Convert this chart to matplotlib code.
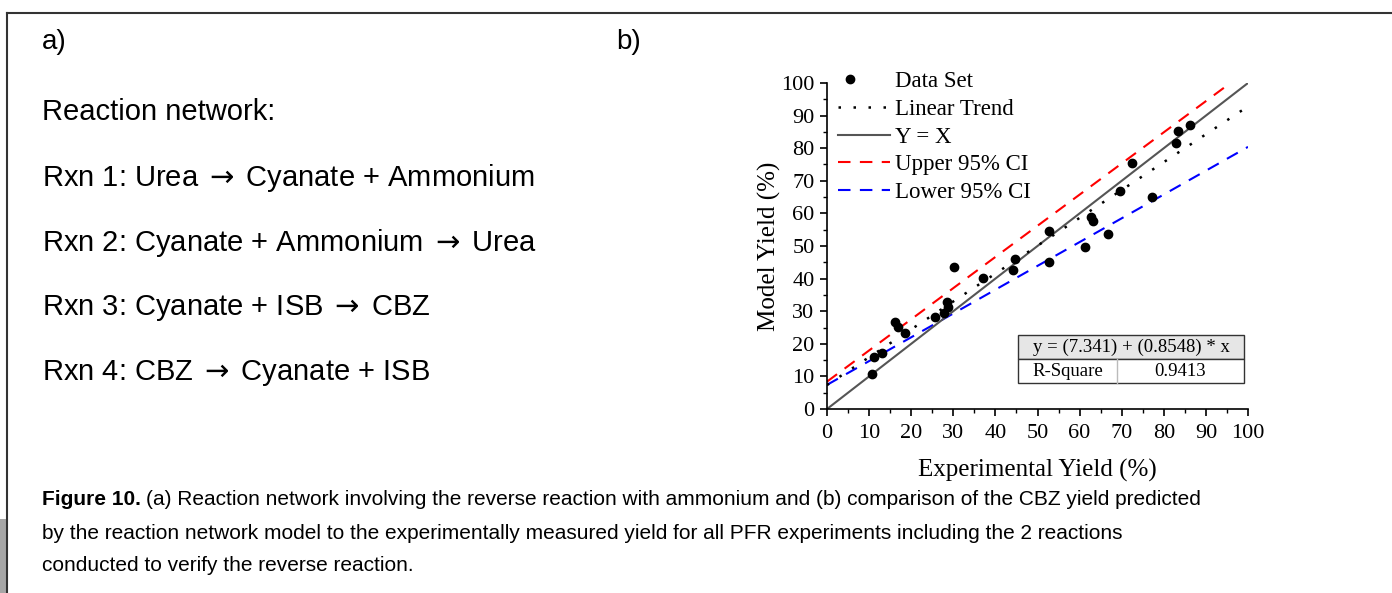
"""
Figure 10: reaction network text (a) and model vs experimental CBZ yield (b)
"""

import matplotlib
matplotlib.use('Agg')
import matplotlib.pyplot as plt
from matplotlib.legend_handler import HandlerLine2D
from matplotlib.lines import Line2D
from matplotlib.patches import Rectangle
from matplotlib.ticker import MultipleLocator

# data
exp_yield = [10.8, 11.2, 13.0, 16.1, 16.9, 18.5, 25.6, 27.7, 28.4, 28.7, 30.2, 37.0, 44.1,
             44.7, 52.7, 52.7, 61.3, 62.8, 63.1, 66.8, 69.6, 72.4, 77.3, 82.9, 83.4, 86.2]
model_yield = [10.8, 15.9, 17.1, 26.7, 25.1, 23.4, 28.3, 29.5, 32.8, 31.4, 43.6, 40.3, 42.6,
               46.0, 54.6, 45.0, 49.6, 58.8, 57.8, 53.6, 66.9, 75.4, 65.1, 81.6, 85.3, 87.1]

fit_intercept = 7.341
fit_slope = 0.8548
r_square = 0.9413

line_x = [0, 100]
upper_ci = [8.4, 104.0]
lower_ci = [7.4, 80.4]

reactions = [
    'Reaction network:',
    r'Rxn 1: Urea$\:\rightarrow\:$Cyanate + Ammonium',
    r'Rxn 2: Cyanate + Ammonium$\:\rightarrow\:$Urea',
    r'Rxn 3: Cyanate + ISB$\:\rightarrow\:$CBZ',
    r'Rxn 4: CBZ$\:\rightarrow\:$Cyanate + ISB',
]
reaction_rows = [112, 178, 243, 308, 373]

caption_lines = [
    '(a) Reaction network involving the reverse reaction with ammonium and (b) comparison of the CBZ yield predicted',
    'by the reaction network model to the experimentally measured yield for all PFR experiments including the 2 reactions',
    'conducted to verify the reverse reaction.',
]

W, H = 1392, 593
sans = ['Liberation Sans', 'DejaVu Sans']
serif = ['Liberation Serif', 'DejaVu Serif']
cap_size = 15


def px(x, y):
    return x / W, 1 - y / H


class LeftMarkerHandler(HandlerLine2D):
    """
    Legend handler that puts the single marker near the left of the handle (like Origin)
    """
    def create_artists(self, legend, orig_handle, xdescent, ydescent, width, height, fontsize, trans):
        artists = super().create_artists(legend, orig_handle, xdescent, ydescent,
                                         width, height, fontsize, trans)
        line = artists[0]
        xd = list(line.get_xdata())
        line.set_xdata([xd[0], xd[0] + 0.23 * (xd[-1] - xd[0]), xd[-1]])
        return artists


fig = plt.figure(figsize=(W / 100, H / 100), dpi=100)

# page frame bits
fig.add_artist(Line2D([7 / W, 1], [1 - 13 / H, 1 - 13 / H], color='#333333', lw=1.5))
fig.add_artist(Line2D([7 / W, 7 / W], [0, 1 - 13 / H], color='#333333', lw=1.5))
fig.add_artist(Rectangle((0, 0), 6 / W, (H - 519) / H, color='#a6a6a6', lw=0))

# panel a
fig.text(*px(42, 42), 'a)', family=sans, fontsize=20, va='center')
fig.text(*px(616, 42), 'b)', family=sans, fontsize=20, va='center')
for text, row in zip(reactions, reaction_rows):
    fig.text(*px(42, row), text, family=sans, fontsize=21, va='center')

# caption, bold label then the rest on the same baseline
label = fig.text(*px(42, 505), 'Figure 10.', family=sans, fontsize=cap_size,
                 fontweight='bold', va='baseline')
renderer = fig.canvas.get_renderer()
label_end = label.get_window_extent(renderer).x1
fig.text((label_end + 5) / W, 1 - 505 / H, caption_lines[0], family=sans, fontsize=cap_size,
         va='baseline')
fig.text(*px(42, 539), caption_lines[1], family=sans, fontsize=cap_size, va='baseline')
fig.text(*px(42, 571), caption_lines[2], family=sans, fontsize=cap_size, va='baseline')

# panel b
ax = fig.add_axes([827 / W, 1 - 409 / H, (1248 - 827) / W, (409 - 83) / H])
fit_y = [fit_intercept + fit_slope * x for x in line_x]

ax.plot(line_x, upper_ci, color='red', lw=1.5, ls=(0, (6, 4.5)), label='Upper 95% CI')
ax.plot(line_x, lower_ci, color='blue', lw=1.5, ls=(0, (6, 4.5)), label='Lower 95% CI')
ax.plot(line_x, line_x, color='#555555', lw=1.5, label='Y = X')
ax.plot(line_x, fit_y, color='black', lw=1.8, ls=(0, (1, 5)), label='Linear Trend')
data_pts, = ax.plot(exp_yield, model_yield, 'o', color='black', ms=6, label='Data Set', zorder=5)

ax.set_xlim(0, 100)
ax.set_ylim(0, 100)
ax.xaxis.set_major_locator(MultipleLocator(10))
ax.yaxis.set_major_locator(MultipleLocator(10))
ax.xaxis.set_minor_locator(MultipleLocator(5))
ax.yaxis.set_minor_locator(MultipleLocator(5))
ax.spines['top'].set_visible(False)
ax.spines['right'].set_visible(False)
for side in ('left', 'bottom'):
    ax.spines[side].set_linewidth(1.2)
ax.tick_params(which='major', length=5, width=1.2, labelsize=16, direction='out', pad=4)
ax.tick_params(axis='x', which='major', pad=6)
ax.tick_params(which='minor', length=3, width=1.0, direction='out')
for lbl in ax.get_xticklabels() + ax.get_yticklabels():
    lbl.set_family(serif)
ax.set_xlabel('Experimental Yield (%)', family=serif, fontsize=18, labelpad=11)
ax.set_ylabel('Model Yield (%)', family=serif, fontsize=18, labelpad=0)

handles, labels = ax.get_legend_handles_labels()
order = [4, 3, 2, 0, 1]
ax.legend([handles[i] for i in order], [labels[i] for i in order], loc='upper left',
          bbox_to_anchor=(-0.011, 1.085), frameon=False, handlelength=2.27, handletextpad=0.2,
          labelspacing=0.29, borderaxespad=0.3, prop={'family': serif, 'size': 16.5},
          handler_map={data_pts: LeftMarkerHandler()})

# fit table
tx0, tx1, tdiv = 0.454, 0.990, 0.689
ty0, ty1, tmid = 0.080, 0.227, 0.153
ax.add_patch(Rectangle((tx0, tmid), tx1 - tx0, ty1 - tmid, transform=ax.transAxes,
                       facecolor='#e6e6e6', edgecolor='#333333', lw=1.0, zorder=6))
ax.add_patch(Rectangle((tx0, ty0), tx1 - tx0, tmid - ty0, transform=ax.transAxes,
                       facecolor='white', edgecolor='#333333', lw=1.0, zorder=6))
ax.add_artist(Line2D([tdiv, tdiv], [ty0, tmid], transform=ax.transAxes, color='#bbbbbb', lw=1.0, zorder=7))
ax.text((tx0 + tx1) / 2, (tmid + ty1) / 2,
        f'y = ({fit_intercept}) + ({fit_slope}) * x', transform=ax.transAxes,
        ha='center', va='center', family=serif, fontsize=13.5, zorder=8)
ax.text((tx0 + tdiv) / 2, (ty0 + tmid) / 2, 'R-Square', transform=ax.transAxes,
        ha='center', va='center', family=serif, fontsize=13.5, zorder=8)
ax.text((tdiv + tx1) / 2, (ty0 + tmid) / 2, f'{r_square}', transform=ax.transAxes,
        ha='center', va='center', family=serif, fontsize=13.5, zorder=8)

fig.savefig('out.png', dpi=100)
